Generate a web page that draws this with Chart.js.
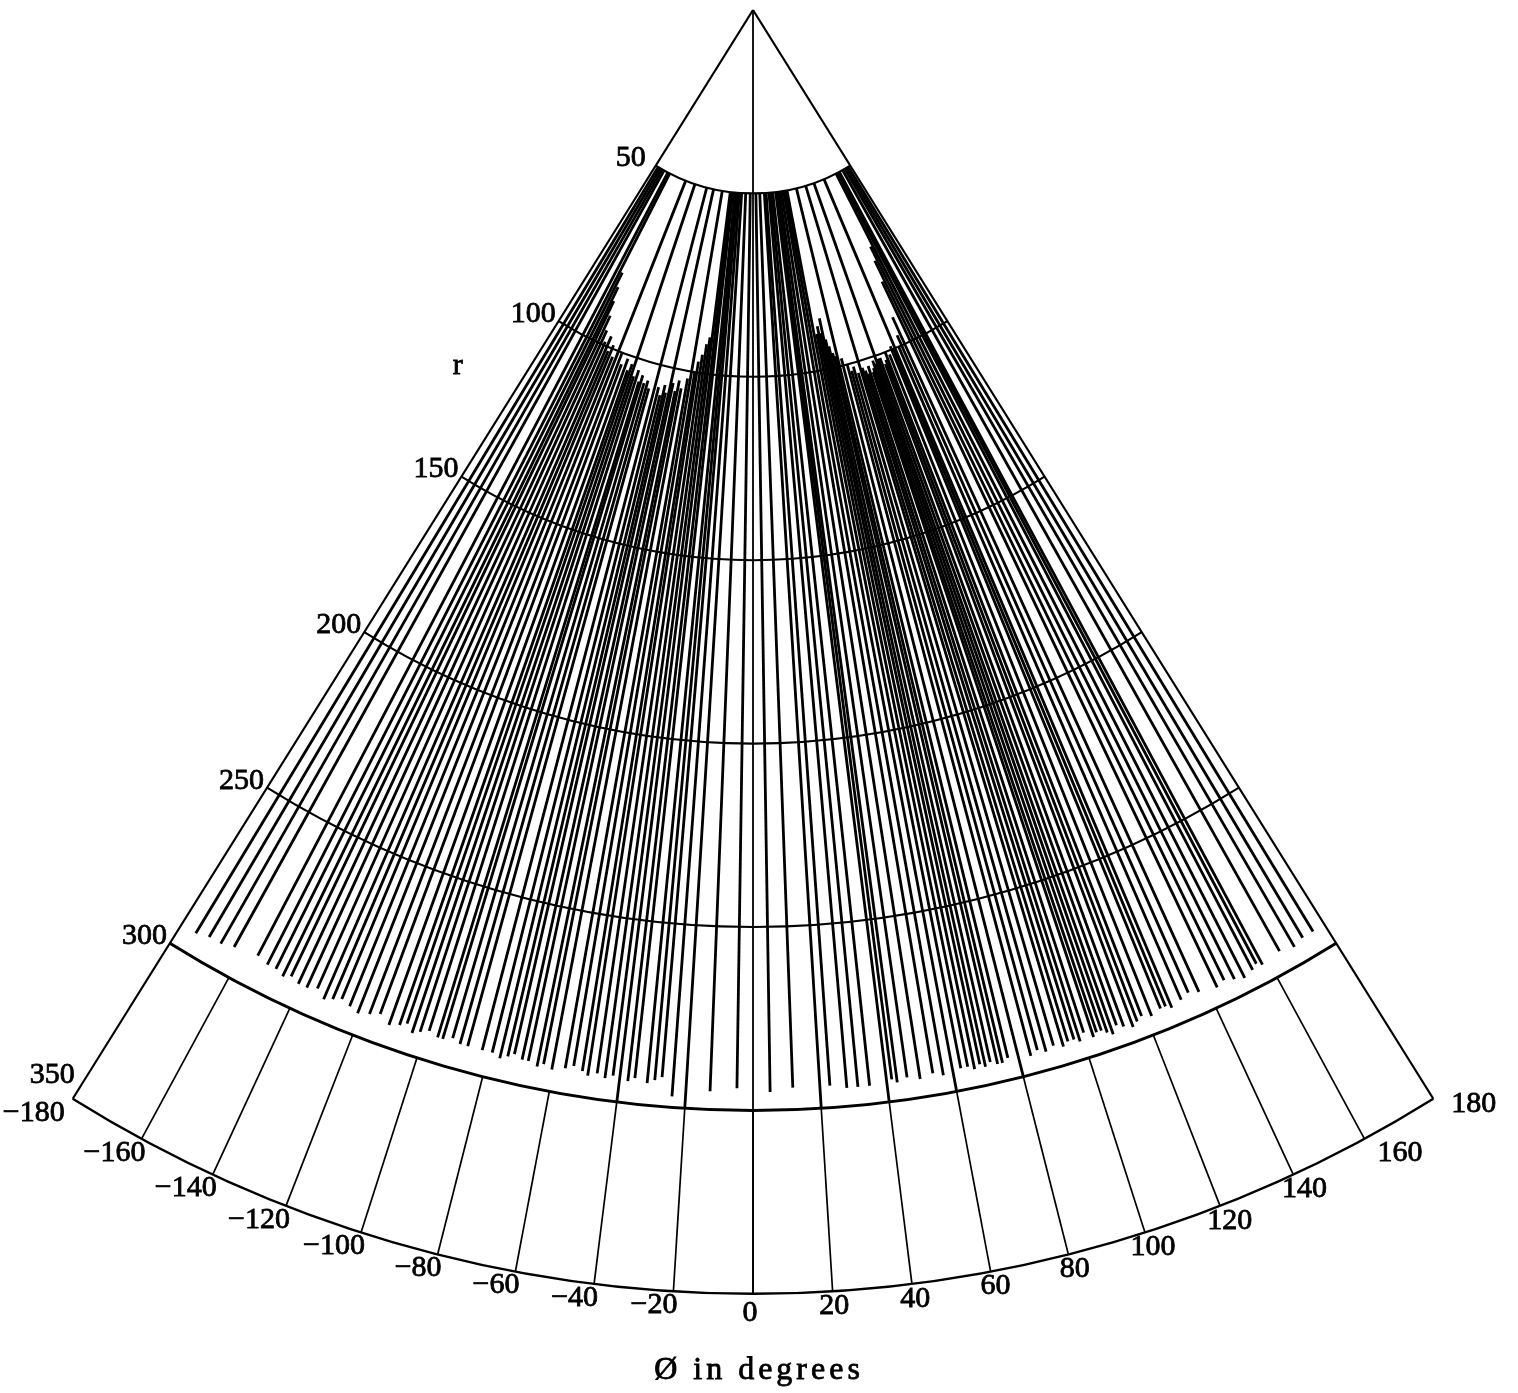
<!DOCTYPE html>
<html>
<head>
<meta charset="utf-8">
<title>r - phi fan</title>
<script src="https://cdn.jsdelivr.net/npm/chart.js@4.4.1/dist/chart.umd.min.js"></script>
<style>
  html, body { margin: 0; padding: 0; background: #fff; }
  canvas { display: block; }
</style>
</head>
<body>
<canvas id="fanChart" width="1518" height="1393"></canvas>
<script>
// phi tick marks (degrees) and r rings
const phiTicks = [-180, -160, -140, -120, -100, -80, -60, -40, -20, 0, 20, 40, 60, 80, 100, 120, 140, 160, 180];
const rRings = [50, 100, 150, 200, 250, 300, 350];

// one radial line per entry: angle, inner and outer radius
const linePhi = [
    -175, -171, -167, -163, -155.5, -151.7, -148.8, -146, -143.7, -140.8,
    -138, -135, -132, -129.5, -127, -124, -121, -117.6, -114.6, -111,
    -108, -106, -103.7, -101.5, -99, -96, -94.4, -91.6, -89, -86.6,
    -82.1, -79, -76.4, -74.2, -72.4, -69.8, -67.9, -65, -63.2, -60.5,
    -56.6, -54.2, -51.4, -49.6, -46.9, -44.4, -42.1, -40, -37.5, -35.5,
    -31.7, -29.5, -27.4, -24, -20, -12.8, -4.8,
    5.1, 11.9, 20, 23, 28, 31.3, 34.8, 40, 41.6, 43.1,
    46.2, 50, 54, 57, 60, 62.5, 64.6, 66.5, 68.3, 69.8,
    71.5, 73.5, 75, 76.9, 80, 83.7, 86, 88.4, 91, 93.8,
    95.5, 97.4, 99, 100.8, 103.2, 104.5, 106, 107.5, 109, 110.8,
    112.7, 115.3, 117, 118.8, 121.6, 124.9, 126.5, 128.1, 131.6, 134.4,
    137.4, 142.9, 145.7, 148.6, 151.5, 154.7, 156.5, 158, 164.4, 168.9,
    172.4, 176
];
const lineRStart = [
    50, 50, 50, 50, 50, 50, 80, 84, 88, 92,
    96, 99, 97, 101, 99, 102, 50, 100, 103, 101,
    104, 102, 50, 105, 103, 106, 104, 106, 105, 107,
    50, 106, 108, 105, 107, 50, 104, 106, 103, 105,
    102, 50, 100, 97, 95, 92, 90, 50, 50, 50,
    50, 50, 50, 50, 50, 50, 50,
    50, 50, 50, 50, 50, 50, 50, 50, 50, 50,
    50, 50, 50, 50, 50, 90, 88, 90, 86, 92,
    94, 96, 97, 50, 98, 100, 102, 101, 103, 50,
    102, 103, 104, 102, 104, 103, 101, 102, 50, 101,
    101, 103, 102, 100, 101, 99, 100, 50, 100, 97,
    92, 82, 76, 72, 50, 50, 50, 50, 50, 50,
    50, 50
];
const lineREnd = [
    294, 293, 293, 292, 291, 292, 292, 293, 292, 293,
    293, 292, 294, 293, 292, 293, 294, 293, 292, 294,
    293, 292, 294, 293, 292, 293, 293, 292, 293, 293,
    293, 293, 294, 293, 292, 293, 293, 294, 293, 294,
    293, 292, 293, 294, 293, 294, 293, 300, 294, 293,
    294, 293, 292, 297, 300, 295, 294,
    295, 294, 300, 294, 295, 295, 295, 300, 294, 295,
    294, 295, 294, 295, 300, 294, 294, 295, 294, 295,
    294, 295, 295, 294, 300, 295, 294, 295, 294, 295,
    294, 294, 295, 293, 295, 294, 294, 295, 296, 294,
    295, 296, 295, 294, 295, 294, 294, 295, 294, 293,
    294, 295, 294, 295, 296, 295, 294, 295, 294, 295,
    294, 294
];

const FAN_HALF = 32;    // drawing angle (deg) used for phi = +-180
const PX_PER_R = 3.668;
const APEX_X = 753, APEX_Y = 10;
const W = 1518, H = 1393;
const LABEL_FONT = '30px "Liberation Serif", "DejaVu Serif", serif';

function toXY(r, phi) {
    const a = phi / 180 * FAN_HALF * Math.PI / 180;
    return { x: r * Math.sin(a), y: -r * Math.cos(a) };
}

function segment(phi, r0, r1, width) {
    return {
        data: [toXY(r0, phi), toXY(r1, phi)],
        showLine: true,
        borderColor: "#000",
        borderWidth: width,
        pointRadius: 0,
        fill: false
    };
}

document.addEventListener("DOMContentLoaded", function () {

    const datasets = [];

    linePhi.forEach((phi, i) => {
        datasets.push(segment(phi, lineRStart[i], lineREnd[i], 2.8));
    });

    // fan edges and centre line run from the apex
    datasets.push(segment(-180, 0, 350, 2.2));
    datasets.push(segment(180, 0, 350, 2.2));
    datasets.push(segment(0, 0, 350, 1.8));

    // phi ticks in the outer band
    phiTicks.filter(p => Math.abs(p) < 180).forEach(p => {
        datasets.push(segment(p, 300, 350, 1.7));
    });

    const fanGrid = {
        id: "fanGrid",
        afterDatasetsDraw(chart) {
            const ctx = chart.ctx;
            const xs = chart.scales.x, ys = chart.scales.y;
            const cx = xs.getPixelForValue(0), cy = ys.getPixelForValue(0);
            const half = FAN_HALF * Math.PI / 180;

            function pix(r, phi) {
                const p = toXY(r, phi);
                return { x: xs.getPixelForValue(p.x), y: ys.getPixelForValue(p.y) };
            }

            // slightly heavier than the plain face, like the printed labels
            function label(txt, x, y) {
                ctx.fillText(txt, x, y);
                ctx.strokeText(txt, x, y);
            }

            ctx.save();
            ctx.strokeStyle = "#000";
            rRings.forEach(r => {
                const R = xs.getPixelForValue(r) - cx;
                ctx.lineWidth = r === 300 ? 3 : (r === 350 ? 2.4 : 2.1);
                ctx.beginPath();
                ctx.arc(cx, cy, R, Math.PI / 2 - half, Math.PI / 2 + half);
                ctx.stroke();
            });

            ctx.fillStyle = "#000";
            ctx.lineWidth = 0.8;
            ctx.font = LABEL_FONT;
            ctx.textBaseline = "middle";

            // r labels along the left edge
            rRings.forEach(r => {
                const p = pix(r, -180);
                ctx.textAlign = "right";
                if (r === 350) {
                    label(String(r), p.x + 2, p.y - 24);
                } else if (r === 50) {
                    label(String(r), p.x - 10, p.y - 7);
                } else {
                    label(String(r), p.x - 3, p.y - 7);
                }
            });

            // phi labels under the outer ring
            phiTicks.forEach(phi => {
                const p = pix(350, phi);
                const txt = phi < 0 ? "\u2212" + Math.abs(phi) : String(phi);
                if (phi === -180) {
                    ctx.textAlign = "right";
                    label(txt, p.x - 8, p.y + 14);
                } else if (phi < 0) {
                    ctx.textAlign = "right";
                    label(txt, p.x + 4, p.y + 14);
                } else if (phi === 0) {
                    ctx.textAlign = "center";
                    label(txt, p.x - 3, p.y + 19);
                } else if (phi < 160) {
                    ctx.textAlign = "center";
                    label(txt, p.x + phi * 0.08, p.y + 15);
                } else {
                    ctx.textAlign = "left";
                    label(txt, p.x + (phi === 180 ? 18 : 13), p.y + (phi === 180 ? 5 : 14));
                }
            });

            // axis names
            const rName = pix(125, -220);
            ctx.textAlign = "center";
            label("r", rName.x - 6, rName.y);

            const phiName = pix(371, 0);
            ctx.font = '32px "Liberation Serif", "DejaVu Serif", serif';
            ctx.letterSpacing = "4px";
            label("\u00d8 in degrees", phiName.x + 6, phiName.y);
            ctx.restore();
        }
    };

    new Chart(document.getElementById("fanChart").getContext("2d"), {
        type: "scatter",
        data: { datasets: datasets },
        options: {
            responsive: false,
            animation: false,
            layout: { padding: 0 },
            scales: {
                x: { type: "linear", display: false, min: -APEX_X / PX_PER_R, max: (W - APEX_X) / PX_PER_R },
                y: { type: "linear", display: false, min: (APEX_Y - H) / PX_PER_R, max: APEX_Y / PX_PER_R }
            },
            plugins: {
                legend: { display: false },
                tooltip: { enabled: false }
            }
        },
        plugins: [fanGrid]
    });
});
</script>
</body>
</html>
